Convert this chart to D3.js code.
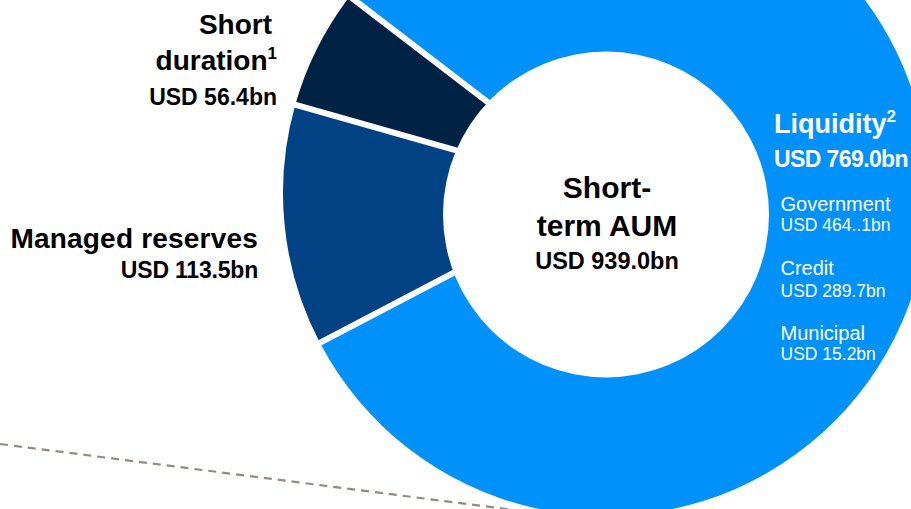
<!DOCTYPE html>
<html><head><meta charset="utf-8">
<script src="https://cdn.jsdelivr.net/npm/d3@7"></script>
<style>
html,body{margin:0;padding:0;background:#fff;}
svg{display:block;font-family:"Liberation Sans",Arial,sans-serif;}
</style></head>
<body>
<svg id="chart" width="911" height="509"></svg>
<script>
// ---- data ----
const categories = ["Liquidity", "Managed reserves", "Short duration"];
const values = [769.0, 113.5, 56.4];
const totalLabel = "USD 939.0bn";
const subCategories = ["Government", "Credit", "Municipal"];
const subValues = [464.1, 289.7, 15.2];
const subValueLabels = ["USD 464..1bn", "USD 289.7bn", "USD 15.2bn"];
const colors = ["#0092FA", "#004283", "#002244"];

// ---- layout ----
const W = 911, H = 509;
const cx = 606, cy = 193, R = 323;
const holeCx = 606, holeCy = 214.5, holeR = 163;
const startDeg = -52.5;

const svg = d3.select("#chart");
const fmt = d3.format(".1f");

// dashed guide line (behind donut)
svg.append("line")
  .attr("x1", 0).attr("y1", 444).attr("x2", W).attr("y2", 561)
  .attr("stroke", "#948a80").attr("stroke-width", 2.2)
  .attr("stroke-dasharray", "8,6");

const pie = d3.pie().sort(null).value(d => d)
  .startAngle(startDeg * Math.PI / 180)
  .endAngle((startDeg + 360) * Math.PI / 180);
const arcs = pie(values);
const arc = d3.arc().innerRadius(0).outerRadius(R);

const g = svg.append("g").attr("transform", `translate(${cx},${cy})`);
g.selectAll("path.slice").data(arcs).enter().append("path")
  .attr("class", "slice")
  .attr("d", arc)
  .attr("fill", (d, i) => colors[i]);

// white separators along slice boundaries
g.selectAll("line.sep").data(arcs).enter().append("line")
  .attr("class", "sep")
  .attr("x1", 0).attr("y1", 0)
  .attr("x2", d => Math.sin(d.startAngle) * (R + 5))
  .attr("y2", d => -Math.cos(d.startAngle) * (R + 5))
  .attr("stroke", "#fff").attr("stroke-width", 6);

// hole
svg.append("circle").attr("cx", holeCx).attr("cy", holeCy).attr("r", holeR).attr("fill", "#fff");

// center labels
const center = svg.append("g").attr("font-weight", "bold").attr("fill", "#000").attr("text-anchor", "middle");
center.append("text").attr("x", 607).attr("y", 197.5).attr("font-size", 30).text("Short-");
center.append("text").attr("x", 607).attr("y", 235.5).attr("font-size", 30).text("term AUM");
center.append("text").attr("x", 607).attr("y", 269).attr("font-size", 23.5).text(totalLabel);

// left labels
const left = svg.append("g").attr("font-weight", "bold").attr("fill", "#000").attr("text-anchor", "end");
left.append("text").attr("x", 272).attr("y", 34).attr("font-size", 28).text("Short");
const dur = left.append("text").attr("x", 277).attr("y", 70).attr("font-size", 28);
dur.append("tspan").text("duration");
dur.append("tspan").attr("font-size", 17).attr("dy", -11).text("1");
left.append("text").attr("x", 277).attr("y", 105).attr("font-size", 23)
  .text("USD " + fmt(values[2]) + "bn");
left.append("text").attr("x", 258).attr("y", 248).attr("font-size", 28).attr("letter-spacing", 0.2).text(categories[1]);
left.append("text").attr("x", 258).attr("y", 278).attr("font-size", 23).attr("letter-spacing", -0.2)
  .text("USD " + fmt(values[1]) + "bn");

// right labels (white, on liquidity slice)
const right = svg.append("g").attr("fill", "#fff").attr("text-anchor", "start");
const liq = right.append("text").attr("x", 774).attr("y", 133).attr("font-size", 27).attr("font-weight", "bold");
liq.append("tspan").text(categories[0]);
liq.append("tspan").attr("font-size", 17).attr("dy", -11).text("2");
right.append("text").attr("x", 774).attr("y", 167).attr("font-size", 23).attr("font-weight", "bold")
  .attr("letter-spacing", -0.6).text("USD " + fmt(values[0]) + "bn");

const subNameY = [211, 274.5, 339.5];
const subValY = [231, 297, 360];
subCategories.forEach((c, i) => {
  right.append("text").attr("x", 780.5).attr("y", subNameY[i]).attr("font-size", 20).text(c);
  right.append("text").attr("x", 780.5).attr("y", subValY[i]).attr("font-size", 17.5).text(subValueLabels[i]);
});
</script>
</body></html>
